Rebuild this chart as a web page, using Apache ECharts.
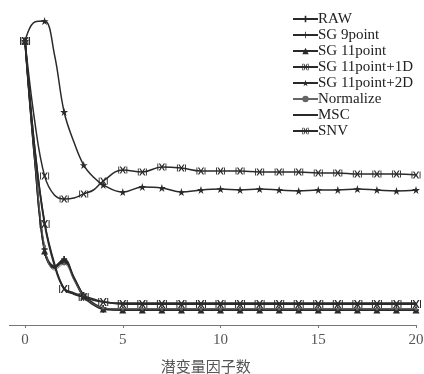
<!DOCTYPE html>
<html>
<head>
<meta charset="utf-8">
<script src="https://cdn.jsdelivr.net/npm/echarts@6/dist/echarts.min.js"></script>
<style>
  html, body { margin: 0; padding: 0; background: #fff; }
  #chart { width: 424px; height: 374px; }
</style>
</head>
<body>
<div id="chart"></div>
<script>
// factor counts (half steps at the start to follow the curve shape)
const factors = [0, 0.5, 1, 1.5, 2, 2.5, 3, 3.5, 4, 5, 6, 7, 8, 9, 10, 11, 12, 13, 14, 15, 16, 17, 18, 19, 20];
const tickValues = [0, 5, 10, 15, 20];

const rawVals   = [0.947, 0.557, 0.253, 0.197, 0.22, 0.16, 0.1, 0.073, 0.057, 0.05, 0.05, 0.05, 0.05, 0.05, 0.05, 0.05, 0.05, 0.05, 0.05, 0.05, 0.05, 0.05, 0.05, 0.05, 0.05];
const sg9Vals   = [0.947, 0.547, 0.243, 0.193, 0.217, 0.153, 0.093, 0.067, 0.053, 0.053, 0.053, 0.053, 0.053, 0.053, 0.053, 0.053, 0.053, 0.053, 0.053, 0.053, 0.053, 0.053, 0.053, 0.053, 0.053];
const sg11Vals  = [0.947, 0.55, 0.247, 0.19, 0.213, 0.157, 0.097, 0.07, 0.053, 0.05, 0.05, 0.05, 0.05, 0.05, 0.05, 0.05, 0.05, 0.05, 0.05, 0.05, 0.05, 0.05, 0.05, 0.05, 0.05];
const sg1dVals  = [0.947, 0.677, 0.497, 0.433, 0.42, 0.423, 0.437, 0.45, 0.48, 0.517, 0.51, 0.527, 0.523, 0.513, 0.513, 0.513, 0.51, 0.51, 0.51, 0.507, 0.507, 0.503, 0.503, 0.503, 0.5];
const sg2dVals  = [0.947, 1.01, 1.013, 0.903, 0.71, 0.61, 0.533, 0.493, 0.467, 0.443, 0.46, 0.457, 0.443, 0.45, 0.453, 0.45, 0.453, 0.45, 0.447, 0.45, 0.45, 0.453, 0.45, 0.447, 0.45];
const normVals  = [0.947, 0.563, 0.263, 0.183, 0.203, 0.15, 0.097, 0.07, 0.057, 0.053, 0.053, 0.053, 0.053, 0.053, 0.053, 0.053, 0.053, 0.053, 0.053, 0.053, 0.053, 0.053, 0.053, 0.053, 0.053];
const mscVals   = [0.947, 0.59, 0.343, 0.207, 0.123, 0.107, 0.097, 0.087, 0.077, 0.073, 0.073, 0.073, 0.073, 0.073, 0.073, 0.073, 0.073, 0.073, 0.073, 0.073, 0.073, 0.073, 0.073, 0.073, 0.073];
const snvVals   = [0.947, 0.583, 0.337, 0.2, 0.12, 0.103, 0.093, 0.083, 0.077, 0.07, 0.07, 0.07, 0.07, 0.07, 0.07, 0.07, 0.07, 0.07, 0.07, 0.07, 0.07, 0.07, 0.07, 0.07, 0.07];

const INK = '#2a2a2a';
const SERIF = '"Liberation Serif", "DejaVu Serif", serif';

// marker shapes (extra moveTo points keep a square box so the legend does not stretch them)
const plusPath = 'path://M3,0 H5 V3 H8 V5 H5 V8 H3 V5 H0 V3 H3 Z';
const tickPath = 'path://M3.5,0 H4.5 V8 H3.5 Z M0,0 M8,8';
const flatPath = 'path://M0,4.6 H10 V5.4 H0 Z M0,0 M10,10'; // MSC: no visible marker
const xbarPath = 'path://M0,0 H1 V8 H0 Z M9,0 H10 V8 H9 Z M1.5,0 L3,0 L5,3 L7,0 L8.5,0 L6,4 L8.5,8 L7,8 L5,5 L3,8 L1.5,8 L4,4 Z';
const starPath = 'path://M5,0 L6.2,3.6 L10,3.6 L6.9,5.8 L8.1,9.5 L5,7.2 L1.9,9.5 L3.1,5.8 L0,3.6 L3.8,3.6 Z';

function points(vals) {
    return factors.map((x, i) => ({
        value: [x, vals[i]],
        symbol: Number.isInteger(x) ? undefined : 'none'
    }));
}

function line(name, vals, symbol, size, width, color, show) {
    return {
        name: name,
        type: 'line',
        smooth: 0.4,
        data: points(vals),
        symbol: symbol,
        symbolSize: size,
        showSymbol: show !== false,
        lineStyle: { color: color || INK, width: width },
        itemStyle: { color: color || INK, borderColor: color || INK, borderWidth: 0 },
        emphasis: { disabled: true },
        animation: false
    };
}

const chart = echarts.init(document.getElementById('chart'));
chart.setOption({
    backgroundColor: '#fff',
    grid: { left: 9.4, right: 8, top: 10, bottom: 49, outerBoundsMode: 'none' },
    legend: {
        orient: 'vertical',
        left: 287,
        top: 6,
        itemWidth: 25,
        itemHeight: 8,
        itemGap: 0,
        textStyle: { fontFamily: SERIF, fontSize: 15, color: '#222', lineHeight: 16, padding: [0, 0, 0, -5] }
    },
    xAxis: {
        type: 'value',
        min: -0.8,
        max: 20,
        name: '潜变量因子数',
        nameLocation: 'middle',
        nameGap: 34,
        nameTextStyle: { fontFamily: '"Noto Sans CJK SC"', fontSize: 15, color: '#555', padding: [0, 14, 0, 0] },
        axisLine: { onZero: false, lineStyle: { color: '#777', width: 1 } },
        axisTick: { customValues: tickValues, length: 3, lineStyle: { color: '#777' } },
        axisLabel: { customValues: tickValues, margin: 8, fontFamily: SERIF, fontSize: 15, color: '#555' },
        splitLine: { show: false }
    },
    yAxis: {
        type: 'value',
        min: 0,
        max: 1.05,
        show: false
    },
    series: [
        line('RAW', rawVals, plusPath, 6, 1.5),
        line('SG 9point', sg9Vals, tickPath, 8, 1.5),
        line('SG 11point', sg11Vals, 'triangle', 7, 1.8),
        line('SG 11point+1D', sg1dVals, xbarPath, [9, 7], 1.5),
        line('SG 11point+2D', sg2dVals, starPath, 8, 1.5),
        line('Normalize', normVals, 'circle', 3, 0.8, '#666'),
        line('MSC', mscVals, flatPath, 6, 1.5, INK, false),
        line('SNV', snvVals, xbarPath, [10, 8], 1.8)
    ]
});
</script>
</body>
</html>
